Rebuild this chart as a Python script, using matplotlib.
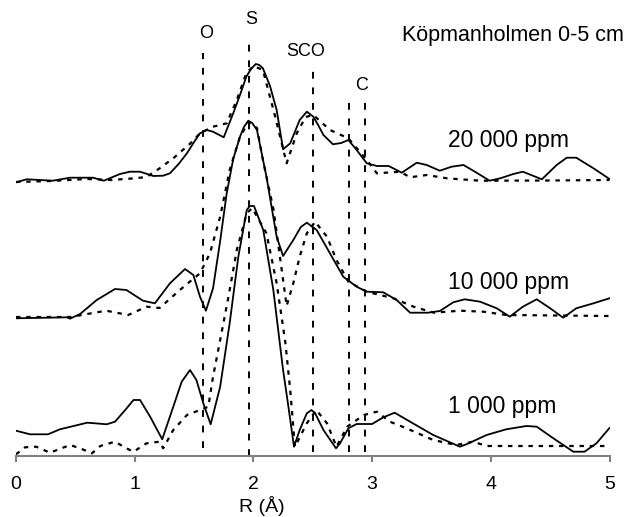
import matplotlib
matplotlib.use("Agg")
import matplotlib.pyplot as plt

plt.rcParams["font.family"] = ["Liberation Sans", "DejaVu Sans"]

# pixel geometry of the reference: axis line at y=456 px, so heights below are "px above axis"
AXIS_PX = 456

# 20 000 ppm
top_solid_r = [0.0, 0.09, 0.31, 0.455, 0.65, 0.74, 0.876, 0.96, 1.045, 1.157, 1.24, 1.297, 1.37, 1.44,
               1.50, 1.55, 1.607, 1.66, 1.75, 1.83, 1.89, 1.94, 1.98, 2.02, 2.05, 2.08, 2.14, 2.196,
               2.25, 2.31, 2.39, 2.45, 2.505, 2.55, 2.59, 2.67, 2.74, 2.80, 2.87, 2.955, 3.04, 3.14,
               3.25, 3.376, 3.46, 3.57, 3.67, 3.77, 3.88, 3.99, 4.08, 4.19, 4.27, 4.43, 4.555,
               4.64, 4.72, 4.865, 5.0]
top_solid_y = [273.7, 276.7, 275.3, 278.3, 278.3, 275.3, 282, 284.3, 284.3, 280, 280.3, 282.7, 292, 302.7,
               314, 322.7, 326, 324.3, 318.7, 342.7, 362, 379.3, 387, 392, 391, 387.7, 370, 346,
               306.7, 312.7, 336, 344.3, 339.3, 330, 321, 311.7, 313, 316, 306, 292.7, 290, 290,
               283.3, 293.3, 291, 285.3, 289.3, 291, 283.3, 275.3, 277.7, 282, 284.3, 276.7, 291,
               298.3, 298.3, 287.7, 277]
top_dot_r = [0.0, 0.3, 0.6, 0.8, 1.0, 1.1, 1.21, 1.325, 1.47, 1.55, 1.65, 1.775, 1.86, 1.94, 2.0,
             2.08, 2.18, 2.28, 2.365, 2.44, 2.505, 2.645, 2.80, 2.955, 3.04, 3.235, 3.32, 3.46,
             3.63, 3.91, 4.5, 5.0]
top_dot_y = [274, 275, 277, 276, 277.7, 279, 287.7, 297.7, 312.7, 322.7, 329, 332.7, 356, 382.7, 390,
             386, 341, 292.7, 322.7, 339, 341, 326, 317.7, 296, 282.7, 284.3, 278.7, 281,
             277.7, 275.3, 275.5, 276]

# 10 000 ppm
mid_solid_r = [0.0, 0.43, 0.455, 0.54, 0.68, 0.834, 0.93, 1.07, 1.17, 1.297, 1.424, 1.494, 1.55,
               1.60, 1.66, 1.72, 1.775, 1.83, 1.887, 1.92, 1.957, 1.99, 2.03, 2.11, 2.196, 2.25,
               2.336, 2.40, 2.45, 2.533, 2.645, 2.757, 2.87, 2.955, 3.094, 3.207, 3.32, 3.47,
               3.57, 3.684, 3.78, 3.91, 4.05, 4.16, 4.27, 4.387, 4.5, 4.61, 4.72, 4.865, 5.0]
mid_solid_y = [137.7, 138.7, 137.3, 142, 156, 167, 166, 155.3, 152.7, 172.7, 187, 181, 159.3,
               145.3, 167.7, 215, 262.7, 297, 319.3, 329, 335.3, 333, 326, 279.3, 219.3, 200,
               216, 229, 233.3, 226, 202.7, 179.3, 169.3, 164.3, 163.7, 156, 143.3, 143.3,
               145, 153.7, 156.7, 154.3, 147.7, 139.3, 149.3, 156.7, 147.7, 138.3, 147.7, 152.7, 157.7]
mid_dot_r = [0.0, 0.46, 0.6, 0.76, 0.946, 1.10, 1.21, 1.38, 1.55, 1.634, 1.72, 1.80, 1.887, 1.96,
             2.03, 2.08, 2.17, 2.28, 2.336, 2.39, 2.45, 2.52, 2.62, 2.70, 2.80, 2.955, 3.18,
             3.35, 3.52, 3.74, 3.94, 4.13, 5.0]
mid_dot_y = [139, 139, 142, 145.3, 141, 149.3, 148, 166, 182.7, 202.7, 239.3, 286, 319.3, 334,
             328, 296, 246, 150, 172.7, 199.3, 222.7, 234.3, 219.3, 196, 174.3, 164.3, 157.7,
             149.3, 143.3, 145.3, 144.3, 141, 140]

# 1 000 ppm
low_solid_r = [0.0, 0.118, 0.27, 0.37, 0.6, 0.665, 0.764, 0.834, 0.92, 0.99, 1.045, 1.13, 1.232, 1.325,
               1.396, 1.466, 1.52, 1.578, 1.64, 1.72, 1.80, 1.873, 1.944, 1.97, 2.005, 2.083,
               2.168, 2.25, 2.295, 2.342, 2.39, 2.45, 2.49, 2.52, 2.59, 2.696, 2.73, 2.80, 2.87,
               3.0, 3.095, 3.19, 3.32, 3.515, 3.74, 3.80, 3.965, 4.13, 4.30, 4.387, 4.527,
               4.695, 4.79, 4.89, 5.0]
low_solid_y = [25.3, 21.7, 21.7, 26.7, 33.3, 32.7, 31.7, 34.3, 46, 56, 56, 39.3, 16.7, 49.3,
               74.3, 86, 76, 52.7, 31.7, 69.3, 132.7, 199.3, 246, 250, 250, 226,
               166, 86, 49.3, 9.3, 26, 42.7, 46, 42.7, 26, 7.7, 12.7, 27.7, 32,
               32, 38.7, 43.3, 34.3, 21, 9.3, 12, 21, 26.7, 30, 29.3, 17.7,
               4.3, 4.3, 12.7, 28]
low_dot_r = [0.0, 0.076, 0.17, 0.286, 0.455, 0.54, 0.64, 0.71, 0.834, 0.93, 0.99, 1.10, 1.21,
             1.24, 1.325, 1.44, 1.55, 1.62, 1.66, 1.72, 1.79, 1.86, 1.944, 1.99, 2.11, 2.196,
             2.27, 2.31, 2.35, 2.45, 2.53, 2.62, 2.70, 2.79, 2.93, 3.04, 3.15, 3.29, 3.515,
             3.71, 3.85, 3.965, 5.0]
low_dot_y = [1.7, 8.7, 9.3, 3.3, 11, 7.7, 2.7, 10, 14.3, 7.7, 4.3, 12.7, 14.3,
             7.7, 26, 41, 46, 49.3, 79.3, 116, 159.3, 206, 242.7, 248, 222.7, 172.7,
             112.7, 66, 9.3, 32.7, 46, 32.7, 9.3, 29.3, 41, 44.3, 34.3, 27.7, 16,
             11, 14.3, 10, 10]

# reference shells: position, top and bottom (px above axis)
shell_r = [1.573, 1.963, 2.505, 2.805, 2.94]
shell_top = [403, 419, 386, 359, 359]
shell_bottom = [8, 0, 4, 4, 4]

shell_names = ["O", "S", "SCO", "C"]
shell_name_x = [1.60, 1.98, 2.44, 2.91]
shell_name_y = [423, 436, 405, 370]

ppm_labels = ["20 000 ppm", "10 000 ppm", "1 000 ppm"]
ppm_x = [3.64, 3.64, 3.64]
ppm_y = [316, 173, 49]

W, H = 627, 517
fig = plt.figure(figsize=(W / 100, H / 100), dpi=100)
ax = fig.add_axes([16 / W, (H - AXIS_PX) / H, 593.5 / W, AXIS_PX / H])

dotted = (0, (2.0, 2.6))
for r, y in [(top_solid_r, top_solid_y), (mid_solid_r, mid_solid_y), (low_solid_r, low_solid_y)]:
    ax.plot(r, y, color="black", lw=1.3, solid_joinstyle="round")
for r, y in [(top_dot_r, top_dot_y), (mid_dot_r, mid_dot_y), (low_dot_r, low_dot_y)]:
    ax.plot(r, y, color="black", lw=1.6, linestyle=dotted)

for r, t, b in zip(shell_r, shell_top, shell_bottom):
    ax.vlines(r, b, t, colors="black", lw=1.4, linestyles=(0, (3.5, 4.5)))

for name, x, y in zip(shell_names, shell_name_x, shell_name_y):
    ax.text(x, y, name, ha="center", va="center", fontsize=13)

for lab, x, y in zip(ppm_labels, ppm_x, ppm_y):
    ax.text(x, y, lab, ha="left", va="center", fontsize=16.5)

ax.text(5.12, 421, "Köpmanholmen 0-5 cm", ha="right", va="center", fontsize=15.5)

ax.set_xlim(0, 5)
ax.set_ylim(0, AXIS_PX)
for side in ["top", "right", "left"]:
    ax.spines[side].set_visible(False)
ax.spines["bottom"].set_color("#808080")
ax.spines["bottom"].set_linewidth(1.5)
ax.set_yticks([])
ax.set_xticks(range(6))
ax.tick_params(axis="x", direction="out", length=4.5, width=1.5, color="#808080",
               labelsize=14, pad=10)
ax.patch.set_alpha(0)

fig.text(262 / W, 1 / H, "R (Å)", ha="center", va="bottom", fontsize=14)

fig.savefig("out.png", dpi=100)
